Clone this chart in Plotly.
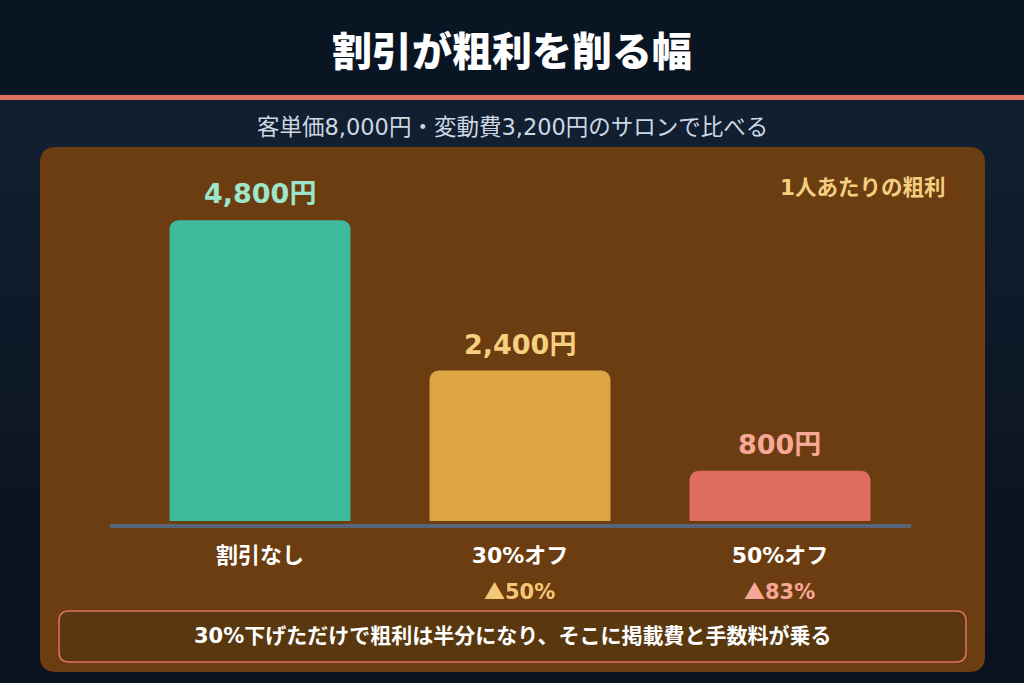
import plotly.graph_objects as go

# ---- data ----
categories = ["割引なし", "30%オフ", "50%オフ"]
profit = [4800, 2400, 800]
value_labels = ["4,800円", "2,400円", "800円"]
reduction_labels = ["", "50%", "83%"]

bar_colors = ["#3dbb9c", "#dea643", "#e06c60"]
label_colors = ["#9de6cc", "#f7cf7f", "#f9a898"]
reduction_colors = ["#f5c878", "#f5c878", "#f7a797"]

title = "割引が粗利を削る幅"
subtitle = "客単価8,000円・変動費3,200円のサロンで比べる"
panel_label = "1人あたりの粗利"
note = "30%下げただけで粗利は半分になり、そこに掲載費と手数料が乗る"

W, H = 1024, 683
FONT = "DejaVu Sans, Noto Sans CJK JP"
CJK = "Noto Sans CJK JP"


def px(x):
    return x / W


def py(y):
    return 1 - y / H


def rounded_rect(x0, y0, x1, y1, r):
    X0, X1 = px(x0), px(x1)
    Y0, Y1 = py(y0), py(y1)
    rx, ry = r / W, r / H
    return (f"M {X0+rx},{Y0} L {X1-rx},{Y0} Q {X1},{Y0} {X1},{Y0-ry} "
            f"L {X1},{Y1+ry} Q {X1},{Y1} {X1-rx},{Y1} L {X0+rx},{Y1} "
            f"Q {X0},{Y1} {X0},{Y1+ry} L {X0},{Y0-ry} Q {X0},{Y0} {X0+rx},{Y0} Z")


fig = go.Figure()
fig.add_trace(go.Bar(
    x=categories, y=profit, width=0.696,
    marker=dict(color=bar_colors, cornerradius=9, line=dict(width=0)),
    hoverinfo="skip",
))

shapes = []
top_c = (0x11, 0x1f, 0x30)
bot_c = (0x0a, 0x12, 0x1d)
n = 12
y_start, y_end = 99, 683
for i in range(n):
    t = i / (n - 1)
    c = tuple(int(top_c[k] + (bot_c[k] - top_c[k]) * t) for k in range(3))
    ya = y_start + (y_end - y_start) * i / n
    yb = y_start + (y_end - y_start) * (i + 1) / n + 1
    shapes.append(dict(type="rect", xref="paper", yref="paper", x0=0, x1=1,
                       y0=max(py(yb), 0), y1=py(ya), fillcolor="rgb(%d,%d,%d)" % c,
                       line=dict(width=0), layer="below"))
shapes.append(dict(type="rect", xref="paper", yref="paper", x0=0, x1=1,
                   y0=py(95), y1=1, fillcolor="#0a1523", line=dict(width=0), layer="below"))
shapes.append(dict(type="rect", xref="paper", yref="paper", x0=0, x1=1,
                   y0=py(100), y1=py(95), fillcolor="#e07062", line=dict(width=0), layer="below"))
shapes.append(dict(type="path", xref="paper", yref="paper",
                   path=rounded_rect(40, 147, 985, 672, 16),
                   fillcolor="#6b3d10", line=dict(width=0), layer="below"))
shapes.append(dict(type="path", xref="paper", yref="paper",
                   path=rounded_rect(59, 611, 966, 662, 10),
                   fillcolor="#5a380f", line=dict(color="#e0705f", width=1.5), layer="below"))


def ann(text, x, y, size, color, weight="bold", family=FONT, xref="paper", yref="paper", **kw):
    d = dict(text=text, x=x, y=y, xref=xref, yref=yref, showarrow=False,
             xanchor="center", yanchor="middle",
             font=dict(family=family, size=size, color=color, weight=weight))
    d.update(kw)
    return d


annotations = [
    ann(title, 0.5, py(52), 40, "#ffffff", weight=900),
    ann(subtitle, 0.5, py(127), 22.5, "#cdd7e4", weight="normal"),
    ann(panel_label, px(862), py(187), 21.5, "#f5cf80"),
    ann(note, px(512), py(636), 21, "#ffffff"),
]
for cat, v, lab, col in zip(categories, profit, value_labels, label_colors):
    annotations.append(ann(lab, cat, v, 27, col, xref="x", yref="y",
                           yanchor="bottom", yshift=9))
for cat, red, col in zip(categories, reduction_labels, reduction_colors):
    if red:
        txt = f"<span style='font-family:{CJK}'>▲</span>{red}"
        annotations.append(ann(txt, cat, py(590), 21, col, xref="x"))

fig.update_layout(
    width=W, height=H, autosize=False,
    margin=dict(l=0, r=0, t=0, b=0, pad=0),
    paper_bgcolor="#0d1929", plot_bgcolor="rgba(0,0,0,0)",
    showlegend=False, shapes=shapes, annotations=annotations,
    xaxis=dict(domain=[px(110), px(911)], range=[-0.577, 2.504],
               showgrid=False, zeroline=False, showline=True, linecolor="#56657a", linewidth=4,
               ticks="", ticklabelstandoff=9,
               tickfont=dict(family=FONT, size=22, color="#ffffff", weight="bold")),
    yaxis=dict(domain=[py(524), py(145)], range=[-48, 6000], visible=False,
               showgrid=False, zeroline=False),
    font=dict(family=FONT),
)

fig.write_html("out.html", config={"displayModeBar": False},
               post_script="document.body.style.margin='0';document.body.style.overflow='hidden';")
